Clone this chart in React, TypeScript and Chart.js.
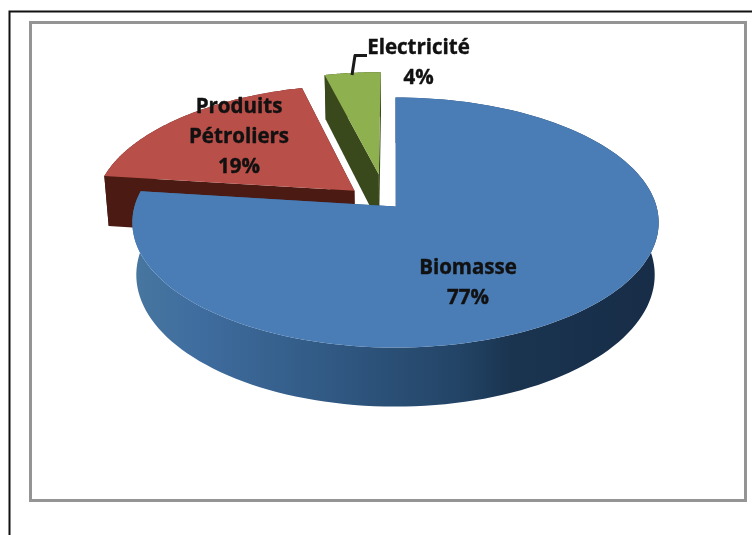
import React, { useEffect, useRef } from "react";
import { Chart, registerables } from "chart.js";

Chart.register(...registerables);

const categories = ["Biomasse", "Produits\nPétroliers", "Electricité"];
const shares = [77, 19, 4];
const topColours = ["#4a7db6", "#b94f49", "#8fb04f"];
const wallColours = ["#2c5177", "#4a1a13", "#3a491c"];
const explodeU = [0, -0.16, -0.066];
const explodeV = [0, -0.13, -0.27];
const labelCentres = [
  [468, 268],
  [239, 107],
  [418.5, 48],
];

const P = { cx: 395.5, cy: 206.5, A: 261, K: 123, p: 0.128, D: 51.5, shrink: 0.985 };

function project(u: number, v: number, z: number) {
  const w = 1 - P.p * v;
  return {
    x: P.cx + (P.A * u * (1 - (1 - P.shrink) * z)) / w,
    y: P.cy + (P.K * v + P.D * z) / w,
  };
}

const pie3d = {
  id: "pie3d",
  beforeDraw(chart: any) {
    const ctx = chart.ctx;
    ctx.save();
    ctx.fillStyle = "#ffffff";
    ctx.fillRect(0, 0, 752, 535);
    ctx.strokeStyle = "#111111";
    ctx.lineWidth = 2;
    ctx.beginPath();
    ctx.moveTo(9.5, 535);
    ctx.lineTo(9.5, 11.5);
    ctx.lineTo(752, 11.5);
    ctx.stroke();
    ctx.strokeStyle = "#949494";
    ctx.lineWidth = 3;
    ctx.strokeRect(30.5, 22.5, 715, 478);
    ctx.restore();
  },
  beforeDatasetDraw(chart: any) {
    const ctx = chart.ctx;
    const arcs = chart.getDatasetMeta(0).data;
    ctx.save();
    const order = [2, 1, 0];
    for (const i of order) {
      const arc = arcs[i];
      const a0 = arc.startAngle;
      const a1 = arc.endAngle;
      const ou = explodeU[i];
      const ov = explodeV[i];
      const steps = 140;
      const rim: { u: number; v: number }[] = [];
      for (let s = 0; s <= steps; s++) {
        const a = a0 + ((a1 - a0) * s) / steps;
        rim.push({ u: ou + Math.cos(a), v: ov + Math.sin(a) });
      }
      const apex = { u: ou, v: ov };

      let wallFill: any = wallColours[i];
      if (i === 0) {
        const g = ctx.createLinearGradient(134, 0, 658, 0);
        g.addColorStop(0, "#47769f");
        g.addColorStop(0.12, "#3f6d9f");
        g.addColorStop(0.42, "#2e557e");
        g.addColorStop(0.62, "#234466");
        g.addColorStop(0.72, "#1a3450");
        g.addColorStop(1, "#172c47");
        wallFill = g;
      }
      ctx.fillStyle = wallFill;

      const wallQuad = (a: { u: number; v: number }, b: { u: number; v: number }) => {
        const p1 = project(a.u, a.v, 0);
        const p2 = project(b.u, b.v, 0);
        const p3 = project(b.u, b.v, 1);
        const p4 = project(a.u, a.v, 1);
        ctx.beginPath();
        ctx.moveTo(p1.x, p1.y);
        ctx.lineTo(p2.x, p2.y);
        ctx.lineTo(p3.x, p3.y);
        ctx.lineTo(p4.x, p4.y);
        ctx.closePath();
        ctx.fill();
      };
      wallQuad(apex, rim[0]);
      wallQuad(apex, rim[steps]);
      ctx.beginPath();
      rim.forEach((r, k) => {
        const q = project(r.u, r.v, 0);
        if (k === 0) ctx.moveTo(q.x, q.y);
        else ctx.lineTo(q.x, q.y);
      });
      for (let k = steps; k >= 0; k--) {
        const q = project(rim[k].u, rim[k].v, 1);
        ctx.lineTo(q.x, q.y);
      }
      ctx.closePath();
      ctx.fill();

      ctx.fillStyle = topColours[i];
      ctx.beginPath();
      const ap = project(apex.u, apex.v, 0);
      ctx.moveTo(ap.x, ap.y);
      rim.forEach((r) => {
        const q = project(r.u, r.v, 0);
        ctx.lineTo(q.x, q.y);
      });
      ctx.closePath();
      ctx.fill();
    }

    ctx.strokeStyle = "#1a1a1a";
    ctx.lineWidth = 3;
    ctx.lineJoin = "round";
    ctx.beginPath();
    ctx.moveTo(352, 75);
    ctx.lineTo(355, 55.5);
    ctx.lineTo(367, 55.5);
    ctx.stroke();

    ctx.fillStyle = "#111111";
    ctx.strokeStyle = "#111111";
    ctx.lineWidth = 0.4;
    ctx.textAlign = "center";
    ctx.textBaseline = "middle";
    ctx.font = 'bold 20.5px "Open Sans"';
    categories.forEach((name, i) => {
      const [lx, ly] = labelCentres[i];
      const lines = name.split("\n");
      const put = (t: string, y: number) => {
        ctx.fillText(t, lx, y);
        ctx.strokeText(t, lx, y);
      };
      lines.forEach((t, k) => put(t, ly + k * 30));
      put(`${shares[i]}%`, ly + lines.length * 30);
    });
    ctx.restore();
    return false;
  },
};

export default function App() {
  const ref = useRef<HTMLCanvasElement>(null);
  useEffect(() => {
    document.body.style.margin = "0";
    document.body.style.overflow = "hidden";
    const chart = new Chart(ref.current as HTMLCanvasElement, {
      type: "pie",
      data: {
        labels: categories,
        datasets: [{ data: shares, backgroundColor: topColours }],
      },
      options: {
        responsive: false,
        animation: false,
        plugins: { legend: { display: false }, tooltip: { enabled: false } },
      },
      plugins: [pie3d],
    } as any);
    return () => chart.destroy();
  }, []);
  return (
    <canvas
      ref={ref}
      width={752}
      height={535}
      style={{ display: "block", width: 752, height: 535, filter: "blur(0.7px)" }}
    />
  );
}
